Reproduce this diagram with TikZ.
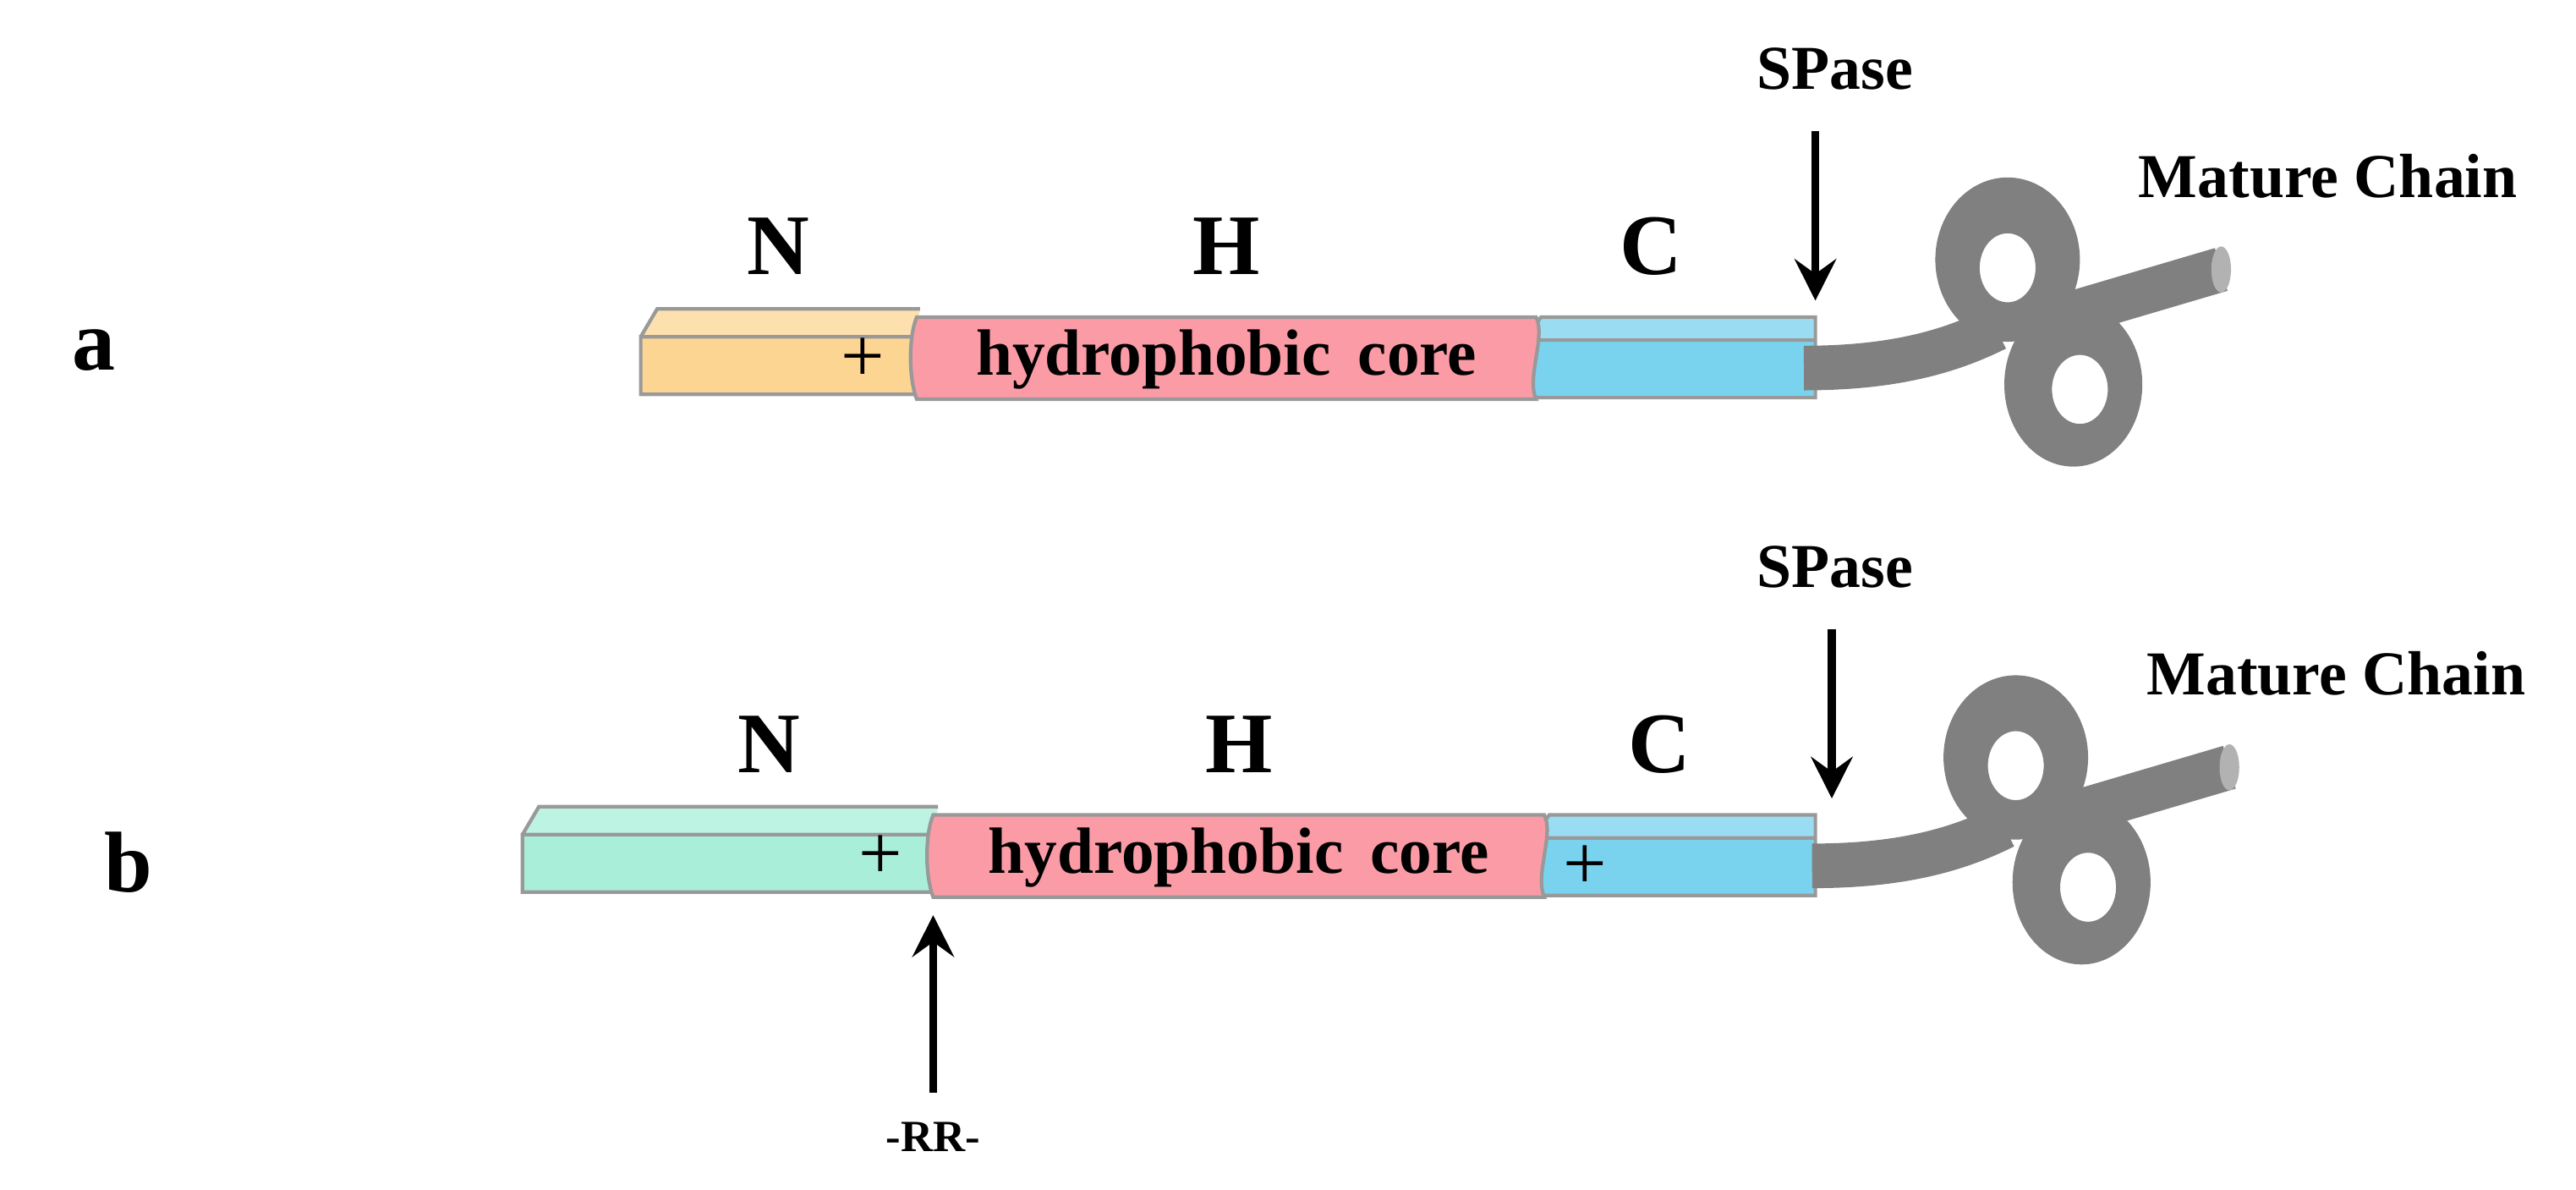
\documentclass[tikz,border=0pt]{standalone}
\usepackage{fontspec}
\setmainfont{Liberation Serif}
\usetikzlibrary{arrows.meta}
\definecolor{nA}{HTML}{FDD593}
\definecolor{nAt}{HTML}{FEE0AE}
\definecolor{nB}{HTML}{A8EED8}
\definecolor{nBt}{HTML}{BDF3E2}
\definecolor{cF}{HTML}{7AD3EE}
\definecolor{cT}{HTML}{9ADDF2}
\definecolor{hF}{HTML}{FB9BA6}
\begin{document}
\begin{tikzpicture}[x=0.01943cm,y=-0.01943cm,
  lbl/.style={font=\bfseries\fontsize{29}{30}\selectfont},
  sm/.style={font=\bfseries\fontsize{21}{22}\selectfont},
  core/.style={font=\bfseries\fontsize{22}{23}\selectfont},
  plus/.style={font=\fontsize{26}{26}\selectfont},
  edge/.style={draw=black!40,line width=1.2pt},
  arr/.style={line width=2.6pt,-{Stealth[length=14pt,width=14pt,inset=5pt]}},
  tube/.style={draw=black!50,line width=15pt},
  ring/.style={fill=black!50,even odd rule}]
\useasboundingbox (0,0) rectangle (1568,724);
\foreach \dy/\nl/\nr/\hl/\hr/\cr/\dx/\name in
  {0/390/557/558/935/1105/0/A, 303/318/568/568/940/1105/5/B}{
  \begin{scope}[yshift={-\dy*0.01943cm}]
  % N box
  \fill[n\name] (\nl,205) rectangle (\nr,240);
  \fill[n\name t] (\nl,205) -- (\nl+10,188) -- (\nr+3,188) -- (\nr,205) -- cycle;
  \draw[edge] (\nl,205) rectangle (\nr,240) (\nl,205) -- (\nl+10,188) -- (\nr+3,188);
  % C box
  \fill[cF] (\hr-7,207) rectangle (\cr,242);
  \fill[cT] (\hr-7,207) -- (\hr+3,193) -- (\cr,193) -- (\cr,207) -- cycle;
  \draw[edge] (\hr-7,207) rectangle (\cr,242) (\hr-7,207) -- (\hr+3,193) -- (\cr,193) -- (\cr,207);
  % H core
  \draw[edge,fill=hF] (\hl,193) -- (\hr,193) .. controls (\hr+6,205) and (\hr-6,230) .. (\hr,243)
     -- (\hl,243) .. controls (\hl-5,230) and (\hl-5,205) .. (\hl,193) -- cycle;
  \node[core] (core\name) at ({(\hl+\hr)/2},219) {hydrophobic\, core};
  \node[plus] (plus\name) at (\nr-32,219) {+};
  \node[lbl] (N\name) at ({(\nl+\nr)/2+(\dx*5)},150) {N};
  \node[lbl] (H\name) at ({(\hl+\hr)/2},150) {H};
  \node[lbl] (C\name) at (\hr+70,150) {C};
  \node[sm] (sp\name) at (1117,42) {SPase};
  \coordinate (cut\name) at (\cr+\dx*2,183);
  \coordinate (sptop\name) at (\cr+\dx*2,80);
  \draw[arr] (sptop\name) -- (cut\name);
  \node[sm] (mc\name) at (1417+\dx,107) {Mature Chain};
  % chain
  \begin{scope}[xshift={\dx*0.01943cm}]
  \draw[tube] (1098,224) .. controls (1150,224) and (1185,215) .. (1215,200);
  \draw[tube] (1230,200) -- (1352,164);
  \fill[ring] (1222,158) ellipse [x radius=44,y radius=50] (1222,163) ellipse [x radius=17,y radius=21];
  \fill[ring] (1262,234) ellipse [x radius=42,y radius=50] (1266,237) ellipse [x radius=17,y radius=21];
  \fill[black!30] (1352,164) ellipse [x radius=6,y radius=14];
  \end{scope}
  \end{scope}}
\node[lbl] (la) at (57,213) {a};
\node[lbl] (lb) at (78,525) {b};
\node[plus] (plusC) at (965,528) {+};
\node[font=\bfseries\fontsize{15}{16}\selectfont] (rr) at (568,692) {-RR-};
\coordinate (rrtop) at (568,557);
\draw[arr] (568,665) -- (rrtop);
\end{tikzpicture}
\end{document}
